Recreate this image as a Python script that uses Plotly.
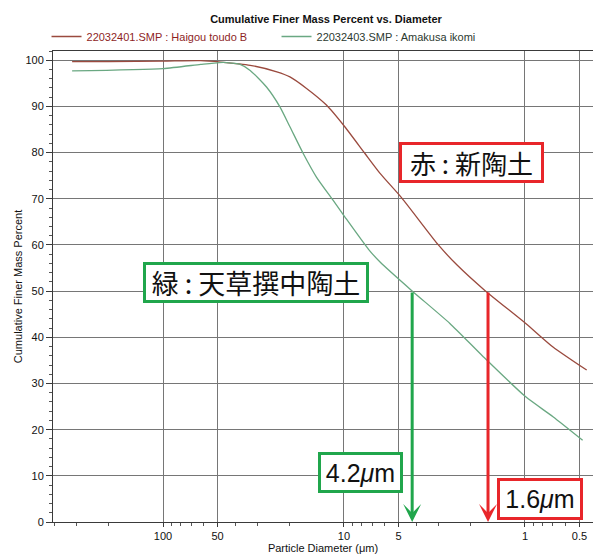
import math
import plotly.graph_objects as go

# ---------------- data ----------------
chart_title = "Cumulative Finer Mass Percent vs. Diameter"
x_title = "Particle Diameter (μm)"
y_title = "Cumulative Finer Mass Percent"

red_name = "22032401.SMP : Haigou toudo B"
green_name = "22032403.SMP : Amakusa ikomi"

red_diam = [318, 200, 100, 62, 48, 33, 23.5, 19.9, 16.1, 12.5, 9.9, 7.66, 6.32, 4.8, 3.01, 2.38, 1.66, 0.99, 0.70, 0.456]
red_pct = [99.7, 99.7, 99.8, 99.9, 99.6, 98.9, 97.5, 96.4, 93.9, 90.3, 85.6, 79.8, 75.5, 70.2, 60.0, 55.7, 50.1, 43.0, 37.9, 32.9]

green_diam = [318, 100, 62, 49, 44.5, 37.5, 33, 26.8, 22.6, 19.9, 16.8, 14.2, 11.5, 9.9, 7.3, 6.32, 4.22, 2.60, 1.70, 0.99, 0.70, 0.48]
green_pct = [97.7, 98.2, 99.1, 99.5, 99.5, 99.1, 97.8, 94.2, 89.9, 85.6, 79.8, 74.7, 69.7, 66.1, 59.0, 56.3, 50.1, 43.0, 35.8, 27.1, 22.8, 17.7]

x_tickvals = [100, 50, 10, 5, 1, 0.5]
x_ticktext = ["100", "50", "10", "5", "1", "0.5"]
x_minor_vals = [400, 300, 200, 90, 80, 70, 60, 40, 30, 20, 9, 8, 7, 6, 4, 3, 2,
                0.9, 0.8, 0.7, 0.6, 0.4]
y_tickvals = [0, 10, 20, 30, 40, 50, 60, 70, 80, 90, 100]

# median diameters (D50) marked with arrows
d50_pct = 50
green_d50 = 4.2
red_d50 = 1.6

red_label_text = "赤 : 新陶土"
green_label_text = "緑 : 天草撰中陶土"
green_d50_text = "4.2<i>μ</i>m"
red_d50_text = "1.6<i>μ</i>m"

# ---------------- styles / positions ----------------
RED_LINE = "#9a4a3e"
GREEN_LINE = "#6aa882"
RED_MARK = "#e8262a"
GREEN_MARK = "#20a64c"
GRID = "#767676"
AXIS = "#3a3a3a"
LATIN = "Liberation Sans, Arial, sans-serif"
CJK = "Noto Sans CJK JP, sans-serif"

# label box centres in data coordinates (diameter, percent)
red_label_pos = (1.975, 77.9)
green_label_pos = (30.6, 51.8)
green_d50_pos = (8.1, 10.7)
red_d50_pos = (0.826, 5.0)

fig = go.Figure()
fig.add_trace(go.Scatter(
    x=red_diam, y=red_pct, mode="lines",
    line=dict(color=RED_LINE, width=1.3, shape="spline", smoothing=0.6),
    name=f"<span style='color:#8e1f1f'>{red_name}</span>",
))
fig.add_trace(go.Scatter(
    x=green_diam, y=green_pct, mode="lines",
    line=dict(color=GREEN_LINE, width=1.3, shape="spline", smoothing=0.6),
    name=f"<span style='color:#2c3a30'>{green_name}</span>",
))

lg = math.log10
annotations = []

def box(text, pos, color, font, size, w, h):
    return dict(text=text, x=lg(pos[0]), y=pos[1], xref="x", yref="y",
                showarrow=False, font=dict(family=font, size=size, color="#111"),
                bordercolor=color, borderwidth=3, borderpad=1, bgcolor="white",
                width=w, height=h, align="center", valign="middle")

annotations.append(box(red_label_text, red_label_pos, RED_MARK, CJK, 26, 137, 33))
annotations.append(box(green_label_text, green_label_pos, GREEN_MARK, CJK, 27, 218, 33))
annotations.append(box(green_d50_text, green_d50_pos, GREEN_MARK, LATIN, 25, 77, 33))
annotations.append(box(red_d50_text, red_d50_pos, RED_MARK, LATIN, 25, 78, 34))

for d50, col in [(green_d50, GREEN_MARK), (red_d50, RED_MARK)]:
    annotations.append(dict(
        text="", x=lg(d50), y=0, xref="x", yref="y",
        ax=lg(d50), ay=d50_pct, axref="x", ayref="y",
        showarrow=True, arrowhead=3, arrowsize=1, arrowwidth=3,
        arrowcolor=col, standoff=0,
    ))

fig.update_layout(
    width=593, height=559,
    margin=dict(l=53, r=0, t=51, b=37, pad=0),
    paper_bgcolor="white", plot_bgcolor="white",
    title=dict(text=f"<b>{chart_title}</b>", x=326 / 593, xanchor="center",
               y=1 - 19 / 559, yanchor="middle", xref="container", yref="container",
               font=dict(family=LATIN, size=11, color="#111")),
    legend=dict(orientation="h", x=-0.012, xanchor="left", y=1.0, yanchor="bottom",
                font=dict(family=LATIN, size=11), bgcolor="rgba(0,0,0,0)",
                entrywidth=185, entrywidthmode="pixels", itemwidth=30),
    annotations=annotations,
    xaxis=dict(
        type="log", range=[2.608, -0.376],
        tickmode="array", tickvals=x_tickvals, ticktext=x_ticktext,
        ticks="outside", ticklen=4, tickcolor=AXIS,
        tickfont=dict(family=LATIN, size=11, color="#111"),
        showgrid=True, gridcolor=GRID, gridwidth=1,
        showline=True, linecolor=AXIS, linewidth=1, mirror=True,
        zeroline=False,
        minor=dict(tickvals=x_minor_vals, ticks="outside", ticklen=3,
                   tickcolor="#555", showgrid=False),
        title=dict(text=x_title, font=dict(family=LATIN, size=11, color="#111"),
                   standoff=0),
    ),
    yaxis=dict(
        range=[0, 102],
        tickmode="array", tickvals=y_tickvals,
        ticks="outside", ticklen=6, tickcolor=AXIS,
        tickfont=dict(family=LATIN, size=11, color="#111"),
        showgrid=True, gridcolor=GRID, gridwidth=1,
        showline=True, linecolor=AXIS, linewidth=1, mirror=True,
        zeroline=False,
        minor=dict(dtick=2, ticks="outside", ticklen=3, tickcolor="#555",
                   showgrid=False),
        title=dict(text=y_title, font=dict(family=LATIN, size=11, color="#111"),
                   standoff=0),
    ),
)

fig.write_html(
    "out.html",
    config={"displayModeBar": False},
    post_script=("document.body.style.margin='0';document.body.style.padding='0';"
                 "document.documentElement.style.overflow='hidden';"),
)
